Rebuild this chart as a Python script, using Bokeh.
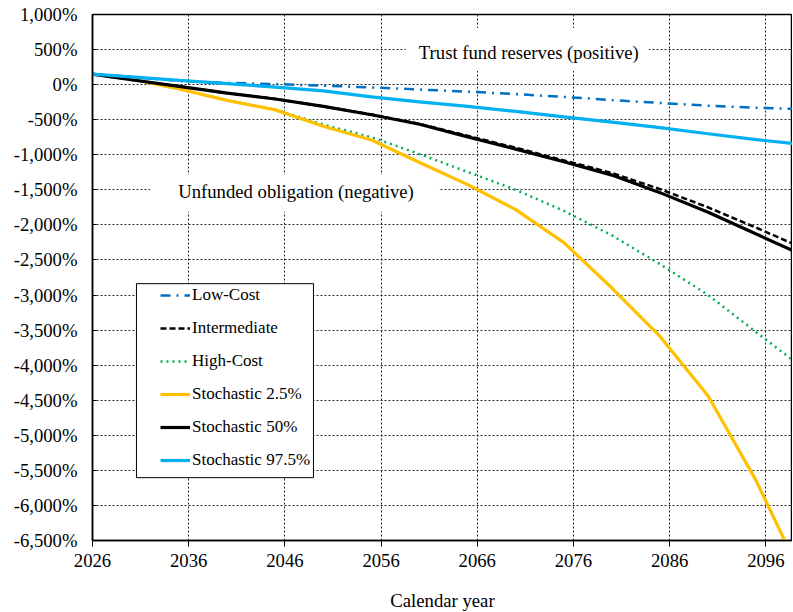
from bokeh.plotting import figure
from bokeh.models import (Legend, LegendItem, BoxAnnotation, Label, CustomJSTickFormatter,
                          FixedTicker, Range1d, ColumnDataSource)
from bokeh.embed import file_html
from bokeh.resources import INLINE

# ---- data (percent) ----
years = [2026, 2030, 2035, 2040, 2045, 2050, 2055, 2060, 2065, 2070, 2075, 2080, 2085, 2090, 2095, 2099]
low_cost = [150, 110, 55, 25, 8, -15, -40, -70, -100, -135, -175, -220, -262, -300, -330, -345]
intermediate = [150, 70, -25, -120, -205, -310, -425, -560, -730, -900, -1080, -1260, -1490, -1750, -2040, -2280]
high_cost = [150, 80, -62, -224, -356, -570, -750, -990, -1245, -1500, -1800, -2150, -2560, -3000, -3530, -3950]
stoch_2_5 = [150, 80, -62, -224, -360, -594, -790, -1110, -1426, -1782, -2253, -2900, -3590, -4440, -5650, -6800]
stoch_50 = [150, 70, -25, -120, -205, -310, -430, -565, -745, -920, -1100, -1290, -1540, -1820, -2130, -2380]
stoch_97_5 = [150, 110, 60, 15, -35, -90, -175, -245, -310, -382, -460, -535, -612, -700, -785, -840]

x_ticks = [2026, 2036, 2046, 2056, 2066, 2076, 2086, 2096]
y_ticks = list(range(-6500, 1001, 500))

FONT = "Liberation Serif"
BIG = "18.7px"

p = figure(width=792, height=615, output_backend="svg", toolbar_location=None,
           x_range=Range1d(2026, 2098.77), y_range=Range1d(-6500, 1000),
           min_border_left=92, min_border_right=0, min_border_top=14, min_border_bottom=75,
           background_fill_color="white", border_fill_color="white")

p.outline_line_color = "black"
p.outline_line_width = 1.5

# axes
p.xaxis.ticker = FixedTicker(ticks=x_ticks)
p.yaxis.ticker = FixedTicker(ticks=y_ticks)
p.yaxis.formatter = CustomJSTickFormatter(code="return tick.toLocaleString('en-US') + '%';")
p.axis.axis_line_color = "black"
p.axis.axis_line_width = 1.5
p.axis.major_tick_line_color = "black"
p.axis.minor_tick_line_color = None
p.axis.major_label_text_font = FONT
p.axis.major_label_text_font_size = BIG
p.axis.major_label_text_color = "black"
p.xaxis.major_tick_out = 6
p.xaxis.major_tick_in = 0
p.xaxis.major_label_standoff = 7
p.yaxis.major_tick_out = 0
p.yaxis.major_tick_in = 4
p.yaxis.major_label_standoff = 15
p.xaxis.axis_label = "Calendar year"
p.xaxis.axis_label_text_font = FONT
p.xaxis.axis_label_text_font_size = BIG
p.xaxis.axis_label_text_font_style = "normal"
p.xaxis.axis_label_text_color = "black"
p.xaxis.axis_label_standoff = 20

# grid
p.grid.grid_line_color = "black"
p.grid.grid_line_dash = "2 2"
p.grid.grid_line_width = 1
p.grid.grid_line_alpha = 0.85

src = ColumnDataSource(dict(year=years, low=low_cost, inter=intermediate, high=high_cost,
                            s25=stoch_2_5, s50=stoch_50, s975=stoch_97_5))

r_low = p.line("year", "low", source=src, line_color="#0070C0", line_width=2.5, line_dash="10 6 2 6")
r_int = p.line("year", "inter", source=src, line_color="black", line_width=2.5, line_dash="6 3")
r_high = p.line("year", "high", source=src, line_color="#00B050", line_width=2.5, line_dash="2 4")
r_s25 = p.line("year", "s25", source=src, line_color="#FFC000", line_width=3.2)
r_s50 = p.line("year", "s50", source=src, line_color="black", line_width=3.2)
r_s975 = p.line("year", "s975", source=src, line_color="#00B0F0", line_width=3.2)

# text annotations with white boxes
p.add_layout(Label(x=2071.2, y=500, text="Trust fund reserves (positive)",
                   text_align="center", text_baseline="middle",
                   text_font=FONT, text_font_size=BIG, text_color="black",
                   background_fill_color="white", background_fill_alpha=1,
                   padding=dict(left=13, right=10, top=14, bottom=8)))
p.add_layout(Label(x=2047.0, y=-1550, text="Unfunded obligation (negative)",
                   text_align="center", text_baseline="middle",
                   text_font=FONT, text_font_size=BIG, text_color="black",
                   background_fill_color="white", background_fill_alpha=1,
                   padding=dict(left=28, right=25, top=6, bottom=10)))

# legend frame
p.add_layout(BoxAnnotation(left=2030.57, right=2048.97, top=-2838, bottom=-5604,
                           fill_color="white", fill_alpha=1,
                           line_color="black", line_width=1, line_alpha=1))

legend = Legend(items=[
    LegendItem(label="Low-Cost", renderers=[r_low]),
    LegendItem(label="Intermediate", renderers=[r_int]),
    LegendItem(label="High-Cost", renderers=[r_high]),
    LegendItem(label="Stochastic 2.5%", renderers=[r_s25]),
    LegendItem(label="Stochastic 50%", renderers=[r_s50]),
    LegendItem(label="Stochastic 97.5%", renderers=[r_s975]),
], location=(68, 70), padding=0, margin=0, border_line_alpha=0, background_fill_alpha=0,
    glyph_width=30, glyph_height=20, label_height=20, spacing=13, label_standoff=2,
    label_text_font=FONT, label_text_font_size="17px", label_text_color="black")
p.add_layout(legend)

open("out.html", "w").write(file_html(p, INLINE))
